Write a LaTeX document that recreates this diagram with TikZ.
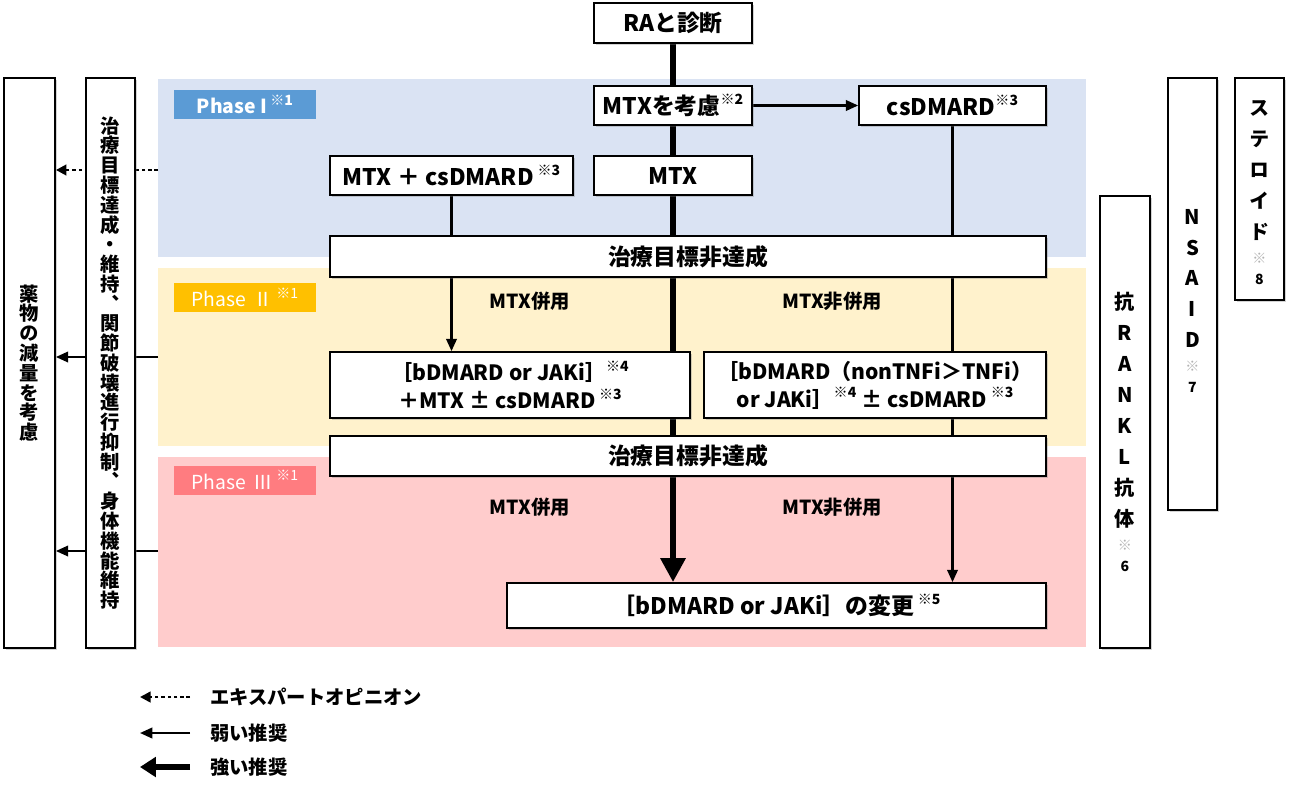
\documentclass[tikz,border=0pt]{standalone}
\usepackage{fontspec}
\setmainfont{Noto Sans CJK JP}
\newfontfamily\vjp{Noto Sans CJK JP}[RawFeature=+vert]
\usepackage{tikz}
\usetikzlibrary{%
    arrows.meta,
    positioning,
    shadows,
    backgrounds
}
\definecolor{phaseOne}{HTML}{DAE3F3}
\definecolor{phaseTwo}{HTML}{FFF2CC}
\definecolor{phaseThree}{HTML}{FFCCCC}
\definecolor{tagOne}{HTML}{5B9BD5}
\definecolor{tagTwo}{HTML}{FFC000}
\definecolor{tagThree}{HTML}{FF7C80}
\newcommand{\kome}[1]{\raisebox{0.45em}{\fontsize{8pt}{8pt}\selectfont ※#1}}
\newcommand{\vkome}[1]{{\fontsize{8pt}{8pt}\selectfont\color{gray!60}※}\\[-5.5pt]{\fontsize{8pt}{8pt}\selectfont #1}}

\begin{document}
\begin{tikzpicture}[x=0.02cm, y=-0.02cm,
                box/.style={draw, line width=1pt, fill=white, align=center, inner sep=0pt, font=\fontsize{13pt}{16pt}\selectfont\bfseries, drop shadow={shadow xshift=1.2pt, shadow yshift=-1.2pt, opacity=0.35}},
                vbox/.style={box, font=\vjp\fontsize{11pt}{11.25pt}\selectfont\bfseries},
                vtext/.style={align=center, font=\vjp\fontsize{11.5pt}{17.6pt}\selectfont\bfseries},
                tag/.style={inner sep=0pt, text=white, minimum width=2.84cm, minimum height=0.58cm, font=\fontsize{11pt}{13pt}\selectfont\bfseries},
                lbl/.style={font=\fontsize{11pt}{13pt}\selectfont\bfseries},
                strong/.style={draw, line width=3.6pt},
                weak/.style={draw, line width=1.2pt},
                strong_flow/.style={strong, -{Triangle[length=0.48cm, width=0.48cm]}},
                weak_flow/.style={weak, -{Triangle[length=7pt, width=6pt]}},
                expert_flow/.style={draw, line width=1.4pt, dash pattern=on 2pt off 1.6pt, -{Triangle[length=6pt, width=6pt]}}
            ]
            \useasboundingbox (0,0) rectangle (1300,791);

            % main flow
            \node (ra) at (673,23) [box, minimum width=3.16cm, minimum height=0.8cm] {RAと診断};
            \node (consider) at (673,105.5) [box, minimum width=3.16cm, minimum height=0.78cm] {MTXを考慮\kome{2}};
            \node (cs) at (952.5,105.5) [box, minimum width=3.74cm, minimum height=0.78cm] {csDMARD\kome{3}};
            \node (mtxcs) at (451.5,175.5) [box, minimum width=4.86cm, minimum height=0.78cm] {MTX ＋ csDMARD\,\kome{3}};
            \node (mtx) at (673,175.5) [box, minimum width=3.16cm, minimum height=0.78cm] {MTX};
            \node (fail1) at (688,256.5) [box, minimum width=14.32cm, minimum height=0.82cm] {治療目標非達成};
            \node (bioL) at (510,385) [box, minimum width=7.2cm, minimum height=1.32cm, font=\fontsize{12pt}{16pt}\selectfont\bfseries] {［bDMARD or JAKi］\kome{4}\\＋MTX ± csDMARD\,\kome{3}};
            \node (bioR) at (875,385) [box, minimum width=6.84cm, minimum height=1.32cm, font=\fontsize{12pt}{16pt}\selectfont\bfseries] {［bDMARD（nonTNFi＞TNFi）\\or JAKi］\kome{4} ± csDMARD\,\kome{3}};
            \node (fail2) at (688,456) [box, minimum width=14.32cm, minimum height=0.8cm] {治療目標非達成};
            \node (change) at (776.5,605.5) [box, minimum width=10.78cm, minimum height=0.9cm] {［bDMARD or JAKi］の変更\,\kome{5}};

            % phase tags
            \node (tag1) at (245,104.5) [tag, fill=tagOne] {Phase I\,\kome{1}};
            \node (tag2) at (245,297.5) [tag, fill=tagTwo, font=\fontsize{11pt}{13pt}\selectfont] {Phase \,Ⅱ\,\kome{1}};
            \node (tag3) at (245,480) [tag, fill=tagThree, font=\fontsize{11pt}{13pt}\selectfont] {Phase \,Ⅲ\,\kome{1}};

            \node (with1) at (530,301) [lbl] {MTX併用};
            \node (without1) at (832,301) [lbl] {MTX非併用};
            \node (with2) at (530,507) [lbl] {MTX併用};
            \node (without2) at (832,507) [lbl] {MTX非併用};

            % side columns
            \node (reduce) at (29.5,363) [vbox, minimum width=1.02cm, minimum height=11.4cm] {薬\\物\\の\\減\\量\\を\\考\\慮};
            \node (goal) at (110.5,363) [vbox, minimum width=0.98cm, minimum height=11.4cm] {治\\療\\目\\標\\達\\成\\・\\維\\持\\、\\関\\節\\破\\壊\\進\\行\\抑\\制\\、\\身\\体\\機\\能\\維\\持};
            \node (rankl) at (1125,422) [box, minimum width=1.0cm, minimum height=9.04cm,
                label={[vtext, yshift=-0.2cm]center:抗\\R\\A\\N\\K\\L\\抗\\体\\[-4pt]\vkome{6}}] {};
            \node (nsaid) at (1192.5,294) [box, minimum width=0.98cm, minimum height=8.64cm,
                label={[vtext, yshift=-0.14cm]center:N\\S\\A\\I\\D\\[-4pt]\vkome{7}}] {};
            \node (steroid) at (1259.5,189) [box, minimum width=0.98cm, minimum height=4.44cm,
                label={[vtext, yshift=-0.08cm]center:ス\\テ\\ロ\\イ\\ド\\[-4pt]\vkome{8}}] {};

            % legend
            \coordinate (k1a) at (190,697);
            \coordinate (k1b) at (140,697);
            \coordinate (k2a) at (190,733);
            \coordinate (k2b) at (140,733);
            \coordinate (k3a) at (190,767);
            \coordinate (k3b) at (140,767);
            \node (key1) at (204,697) [lbl, anchor=west] {エキスパートオピニオン};
            \node (key2) at (204,733) [lbl, anchor=west] {弱い推奨};
            \node (key3) at (204,767) [lbl, anchor=west] {強い推奨};

            \coordinate (e1) at (158,170);
            \coordinate (e2) at (158,357);
            \coordinate (e3) at (158,551);

            \begin{scope}[on background layer]
                \fill [phaseOne] (158,79) rectangle (1086,257);
                \fill [phaseTwo] (158,268) rectangle (1086,446);
                \fill [phaseThree] (158,457) rectangle (1086,647);

                \draw [strong] (ra) -- (consider);
                \draw [strong] (consider) -- (mtx);
                \draw [strong] (mtx) -- (mtx |- fail1.north);
                \draw [strong] (mtx |- fail1.south) -- (mtx |- bioL.north);
                \draw [strong] (mtx |- bioL.south) -- (mtx |- fail2.north);
                \draw [strong_flow] (mtx |- fail2.south) -- (mtx |- change.north);

                \draw [weak_flow] (consider) -- (cs);
                \draw [weak] (cs) -- (cs |- fail1.north);
                \draw [weak] (cs |- fail1.south) -- (cs |- bioR.north);
                \draw [weak] (cs |- bioR.south) -- (cs |- fail2.north);
                \draw [weak_flow] (cs |- fail2.south) -- (cs |- change.north);

                \draw [weak] (mtxcs) -- (mtxcs |- fail1.north);
                \draw [weak_flow] (mtxcs |- fail1.south) -- (mtxcs |- bioL.north);

                \draw [expert_flow] (e1) -- (e1 -| reduce.east);
                \draw [weak_flow] (e2) -- (e2 -| reduce.east);
                \draw [weak_flow] (e3) -- (e3 -| reduce.east);
            \end{scope}

            \draw [expert_flow] (k1a) -- (k1b);
            \draw [weak_flow] (k2a) -- (k2b);
            \draw [strong, -{Triangle[length=9pt, width=11pt]}] (k3a) -- (k3b);
        \end{tikzpicture}
\end{document}
